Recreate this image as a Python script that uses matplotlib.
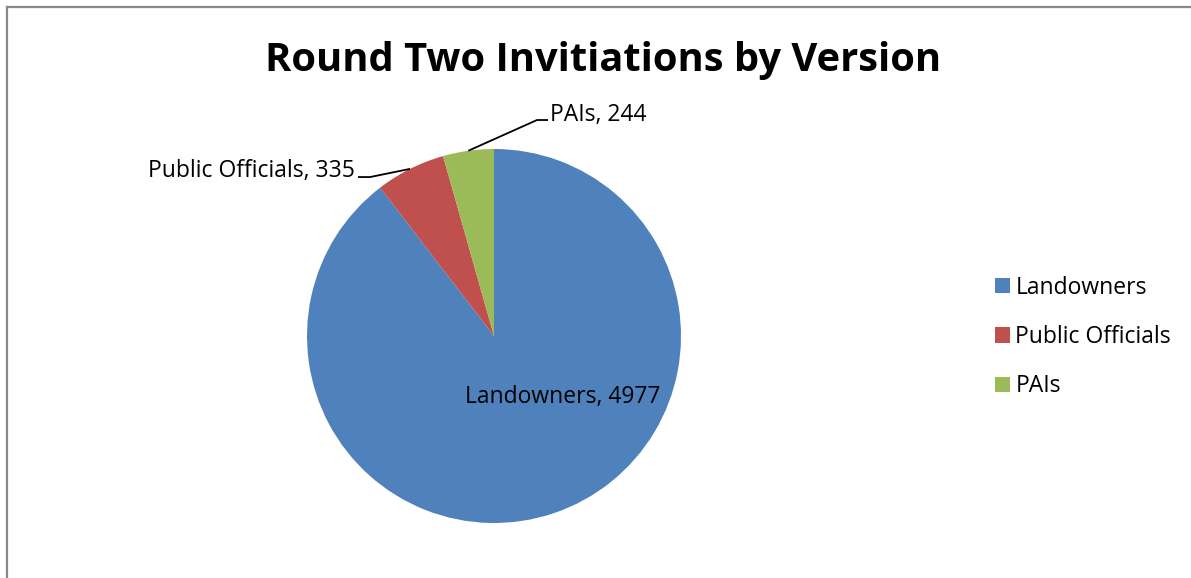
import numpy as np
import matplotlib.pyplot as plt
from matplotlib.lines import Line2D
from matplotlib.patches import Patch

# Chart data
categories = ['Landowners', 'Public Officials', 'PAIs']
counts = [4977, 335, 244]
colors = ['#4F81BD', '#C0504D', '#9BBB59']
title = 'Round Two Invitiations by Version'

plt.rcParams['font.family'] = ['Open Sans', 'DejaVu Sans']

W, H = 1191, 578
fig = plt.figure(figsize=(W / 100, H / 100), dpi=100)

# Pie axes placed in pixel terms: centre (494, 336), radius 187
cx, cy, r = 494, 336, 187
ax = fig.add_axes([(cx - r) / W, (H - cy - r) / H, 2 * r / W, 2 * r / H])
wedges, _ = ax.pie(counts, colors=colors, startangle=90, counterclock=False,
                   radius=1, wedgeprops=dict(linewidth=0))
ax.set_xlim(-1, 1)
ax.set_ylim(-1, 1)
ax.set_aspect('equal')
ax.axis('off')

def mid_point(w):
    ang = np.deg2rad((w.theta1 + w.theta2) / 2)
    return np.cos(ang), np.sin(ang)

fs = 16.5

# Landowners label inside the slice
ax.text(0.365, -0.325, f'{categories[0]}, {counts[0]}', ha='center', va='center',
        fontsize=fs, color='black')

# Public Officials label with leader line
px, py = mid_point(wedges[1])
ax.plot([-0.727, -0.663, px], [0.850, 0.850, py], color='black', lw=1.3,
        clip_on=False, solid_capstyle='butt')
ax.text(-0.745, 0.88, f'{categories[1]}, {counts[1]}', ha='right', va='center',
        fontsize=fs, color='black')

# PAIs label with leader line
qx, qy = mid_point(wedges[2])
ax.plot([qx, 0.230, 0.289], [qy, 1.155, 1.155], color='black', lw=1.3,
        clip_on=False, solid_capstyle='butt')
ax.text(0.300, 1.18, f'{categories[2]}, {counts[2]}', ha='left', va='center',
        fontsize=fs, color='black')

# Title
fig.text(603 / W, 1 - 60 / H, title, ha='center', va='center',
         fontsize=28.7, fontweight='bold', color='black')

# Legend
handles = [Patch(facecolor=c, edgecolor='none') for c in colors]
fig.legend(handles, categories, loc='center left',
           bbox_to_anchor=(984 / W, 1 - 337 / H), frameon=False,
           fontsize=fs, handlelength=0.65, handleheight=0.65,
           handletextpad=0.22, labelspacing=1.1, borderpad=0)

# Chart area border (top and left visible)
fig.add_artist(Line2D([7 / W, 7 / W], [0, 1 - 7 / H], color='#888888', lw=1.6))
fig.add_artist(Line2D([7 / W, 1], [1 - 7 / H, 1 - 7 / H], color='#888888', lw=1.6))

fig.savefig('out.png', dpi=100, facecolor='white')
